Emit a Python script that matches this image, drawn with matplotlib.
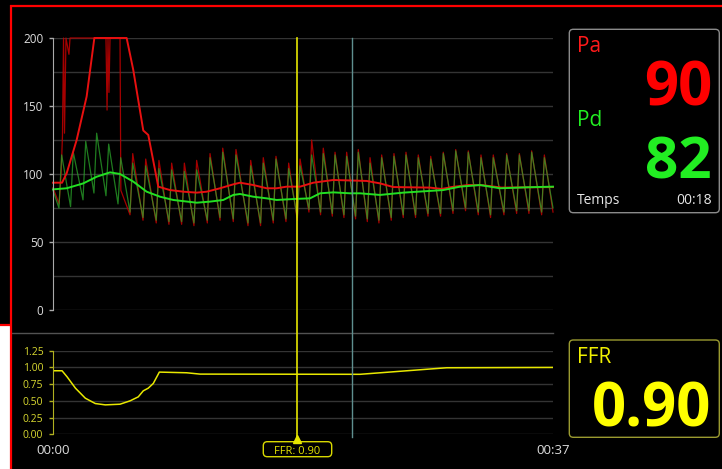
import matplotlib
matplotlib.use("Agg")
import matplotlib.pyplot as plt
import matplotlib.transforms as mtransforms
from matplotlib.lines import Line2D
from matplotlib.patches import FancyBboxPatch, Rectangle

plt.rcParams["font.family"] = ["Open Sans", "DejaVu Sans"]

W, H = 722, 469

# ---- data (time in seconds) ----

# heart beats: time of each systolic peak
beat_t = [0.64, 1.50, 2.42, 3.23, 4.12, 5.01, 5.90, 6.86, 7.84, 8.78,
          9.72, 10.63, 11.62, 12.56, 13.54, 14.63, 15.56, 16.50, 17.44, 18.28,
          19.14, 20.00, 20.87, 21.73, 22.59, 23.46, 24.32, 25.23, 26.12, 27.03,
          27.95, 28.88, 29.80, 30.73, 31.67, 32.58, 33.57, 34.51, 35.42, 36.36]

# distal pressure (Pd), raw waveform
pd_peak = [114, 116, 124, 130, 122, 112, 108, 106, 104, 103,
           102, 103, 112, 116, 114, 106, 108, 111, 104, 106,
           114, 115, 114, 113, 116, 108, 112, 113, 114, 112,
           111, 115, 117, 116, 112, 112, 114, 114, 116, 112]
pd_trough = [75, 76, 81, 86, 84, 78, 72, 68, 66, 65,
             65, 64, 66, 68, 67, 64, 64, 66, 67, 68,
             74, 72, 71, 70, 69, 67, 66, 68, 70, 70,
             71, 71, 73, 75, 72, 70, 72, 73, 73, 72]

# aortic pressure (Pa), raw: saturated flush at the start, then beats 7..40
pa_sat_t = [0.0, 0.45, 0.60, 0.70, 0.78, 0.85, 0.96, 1.18, 1.26,
            3.92, 4.00, 4.07, 4.14, 4.22, 4.96, 5.02]
pa_sat_v = [90, 78, 100, 128, 200, 130, 200, 188, 200,
            200, 147, 200, 160, 200, 200, 88]
pa_peak = [115, 111, 110, 108, 108, 110, 115, 119, 118, 110,
           112, 113, 108, 111, 125, 119, 116, 116, 118, 112,
           114, 115, 116, 114, 113, 116, 118, 117, 114, 114,
           115, 115, 117, 114]
pa_trough = [70, 66, 64, 63, 63, 62, 64, 66, 65, 62,
             62, 64, 65, 66, 72, 70, 69, 68, 67, 65,
             64, 66, 68, 68, 69, 69, 71, 73, 70, 68,
             70, 71, 71, 70]

# mean pressures
pa_mean_t = [0, 0.67, 1.01, 1.75, 2.49, 3.06, 5.45, 5.94, 6.68, 7.05, 7.79,
             8.66, 9.64, 10.63, 11.37, 12.36, 13.34, 13.84, 14.82, 15.81,
             16.55, 17.29, 18.28, 19.26, 20.74, 23.21, 24.20, 25.18, 27.90,
             28.76, 29.50, 30.73, 31.84, 33.20, 37.0]
pa_mean_v = [93.6, 93.6, 100.5, 125, 157, 200, 200, 176.5, 132, 128.7, 90.7,
             88.2, 87, 86.3, 87, 89.5, 92.4, 93.6, 91.9, 89.5,
             89.5, 90.7, 90.7, 93.6, 95.6, 94.9, 93.1, 90.4, 90,
             89, 90.4, 91.9, 91.7, 90, 90.4]
pd_mean_t = [0, 1.01, 2.24, 3.23, 4.22, 4.96, 5.94, 6.93, 7.92, 8.90, 10.63,
             11.62, 12.60, 13.34, 13.84, 14.82, 15.81, 16.55, 17.78, 19.02,
             19.76, 20.74, 21.98, 22.72, 24.20, 25.92, 28.88, 30.12, 31.60,
             33.08, 35.0, 37.0]
pd_mean_v = [88.7, 89.5, 93.1, 98, 101.2, 100, 94.4, 87, 83.3, 80.9, 78.9,
             79.7, 80.9, 84.6, 85.3, 83.3, 82.1, 80.9, 81.6, 82.1,
             85.8, 86.5, 85.8, 85.8, 84.6, 86.3, 88.2, 90.7, 91.9,
             89.5, 90.2, 90.7]

# FFR = Pd / Pa
ffr_t = [0, 0.67, 1.04, 1.66, 2.39, 3.13, 3.87, 4.96, 5.70, 6.31, 6.68,
         7.05, 7.42, 7.87, 9.89, 10.88, 22.72, 29.13, 37.0]
ffr_v = [0.95, 0.95, 0.86, 0.69, 0.54, 0.46, 0.44, 0.45, 0.50, 0.56, 0.65,
         0.69, 0.76, 0.93, 0.92, 0.90, 0.897, 0.995, 1.0]

cursor_t = 18.06
marker_t = 22.13
t_end = 37
time_labels = ["00:00", "00:37"]
pressure_ticks = [0, 50, 100, 150, 200]
ffr_ticks = [0.0, 0.25, 0.5, 0.75, 1.0, 1.25]

pa_now = "90"
pd_now = "82"
ffr_now = "0.90"
time_now = "00:18"


def fx(px):
    return px / W


def fy(py):
    return 1 - py / H


def waveform(times, peaks, troughs, start, end, rise=0.2):
    t = [start[0]]
    v = [start[1]]
    for pt, pk, tr in zip(times, peaks, troughs):
        t += [pt - rise, pt]
        v += [tr, pk]
    t.append(end[0])
    v.append(end[1])
    return t, v


fig = plt.figure(figsize=(W / 100, H / 100), dpi=100, facecolor="black")

# pressure panel
ax_p = fig.add_axes([fx(53), fy(310), 500 / W, 272 / H])
ax_p.set_facecolor("none")
ax_p.set_xlim(0, t_end)
ax_p.set_ylim(0, 200)
for v in range(0, 201, 25):
    ax_p.axhline(v, color="#343434", lw=1, zorder=0)

pd_t, pd_v = waveform(beat_t, pd_peak, pd_trough, (0, 88), (t_end, 75))
pa_t, pa_v = waveform(beat_t[6:], pa_peak, pa_trough, (pa_sat_t[-1], pa_sat_v[-1]), (t_end, 72))
pa_t = pa_sat_t[:-1] + pa_t
pa_v = pa_sat_v[:-1] + pa_v

ax_p.plot(pa_t, pa_v, color="#b80000", lw=0.9, alpha=0.9, clip_on=False)
ax_p.plot(pd_t, pd_v, color="#2aa52a", lw=0.9, alpha=0.75, clip_on=False)
ax_p.plot(pa_mean_t, pa_mean_v, color="#e81010", lw=1.4, clip_on=False)
ax_p.plot(pd_mean_t, pd_mean_v, color="#22e022", lw=1.4, clip_on=False)

for s in ["top", "right", "bottom"]:
    ax_p.spines[s].set_visible(False)
ax_p.spines["left"].set_color("#aaaaaa")
ax_p.set_yticks(pressure_ticks)
ax_p.set_xticks([])
ax_p.tick_params(axis="y", colors="#aaaaaa", labelcolor="#dddddd",
                 length=3, width=1, pad=4, labelsize=8.5)

# FFR panel
ax_f = fig.add_axes([fx(53), fy(434.3), 500 / W, 83.6 / H])
ax_f.set_facecolor("none")
ax_f.set_xlim(0, t_end)
ax_f.set_ylim(0, 1.25)
for v in ffr_ticks:
    ax_f.axhline(v, color="#343434", lw=1, zorder=0)
ax_f.plot(ffr_t, ffr_v, color="#e8e800", lw=1.1)
for s in ["top", "right", "bottom"]:
    ax_f.spines[s].set_visible(False)
ax_f.spines["left"].set_color("#b0b020")
ax_f.set_yticks(ffr_ticks)
ax_f.set_yticklabels([f"{v:.2f}" for v in ffr_ticks])
ax_f.tick_params(axis="y", colors="#b0b020", labelcolor="#d8d830",
                 length=3, width=1, pad=4, labelsize=7.5)
ax_f.set_xticks([0, t_end])
ax_f.set_xticklabels(time_labels)
ax_f.tick_params(axis="x", length=0, labelcolor="#dddddd", labelsize=9.5, pad=7)

# separator between the two panels
fig.add_artist(Line2D([fx(12), fx(553)], [fy(332.7)] * 2, color="#525252", lw=1))

# cursor lines across both panels
trans = mtransforms.blended_transform_factory(ax_p.transData, fig.transFigure)
fig.add_artist(Line2D([marker_t] * 2, [fy(437), fy(38)], transform=trans,
                      color="#5f8f8f", lw=1))
fig.add_artist(Line2D([cursor_t] * 2, [fy(439), fy(38)], transform=trans,
                      color="#e6e600", lw=1.2))
fig.add_artist(Line2D([cursor_t], [fy(439.3)], transform=trans, marker="^",
                      markersize=6, color="#e6e600", lw=0))

# FFR cursor label
inch = fig.dpi_scale_trans
fig.add_artist(FancyBboxPatch((263.3 / 100, (H - 456.7) / 100), 68.4 / 100, 15 / 100,
                              boxstyle="round,pad=0,rounding_size=0.04",
                              transform=inch, fc="black", ec="#d8d800", lw=1))
fig.text(fx(297.5), fy(453.5), "FFR: " + ffr_now, color="#e6e600",
         fontsize=8, ha="center", va="baseline")

# right side readouts
fig.add_artist(FancyBboxPatch((569.3 / 100, (H - 212.7) / 100), 150 / 100, 183.4 / 100,
                              boxstyle="round,pad=0,rounding_size=0.04",
                              transform=inch, fc="black", ec="#8a8a8a", lw=1))
fig.add_artist(FancyBboxPatch((569.3 / 100, (H - 437.3) / 100), 150 / 100, 97.3 / 100,
                              boxstyle="round,pad=0,rounding_size=0.04",
                              transform=inch, fc="black", ec="#9a9a30", lw=1))

fig.text(fx(577), fy(52.3), "Pa", color="#ff1a1a", fontsize=15, va="baseline")
fig.text(fx(712), fy(105), pa_now, color="#ff0000", fontsize=43,
         fontweight="bold", ha="right", va="baseline")
fig.text(fx(577), fy(126), "Pd", color="#22ee22", fontsize=15, va="baseline")
fig.text(fx(712), fy(178.3), pd_now, color="#22ee22", fontsize=42,
         fontweight="bold", ha="right", va="baseline")
fig.text(fx(577), fy(203.5), "Temps", color="#e6e6e6", fontsize=10, va="baseline")
fig.text(fx(712), fy(203.5), time_now, color="#e6e6e6", fontsize=10,
         ha="right", va="baseline")
fig.text(fx(577), fy(363.3), "FFR", color="#f0f000", fontsize=15, va="baseline")
fig.text(fx(711), fy(426.7), ffr_now, color="#ffff00", fontsize=43,
         fontweight="bold", ha="right", va="baseline")

# red highlight frame and the white margin at the bottom left
fig.add_artist(Rectangle((0, 0), fx(10), (H - 326) / H, transform=fig.transFigure,
                         fc="white", ec="none"))
red = dict(color="#ff0000", lw=1.6, solid_capstyle="butt")
fig.add_artist(Line2D([fx(10.3), 1], [fy(6)] * 2, **red))
fig.add_artist(Line2D([fx(11)] * 2, [fy(5.3), 0], **red))
fig.add_artist(Line2D([0, fx(11)], [fy(325.3)] * 2, **red))

fig.savefig("out.png", dpi=100, facecolor="black")
plt.close(fig)
